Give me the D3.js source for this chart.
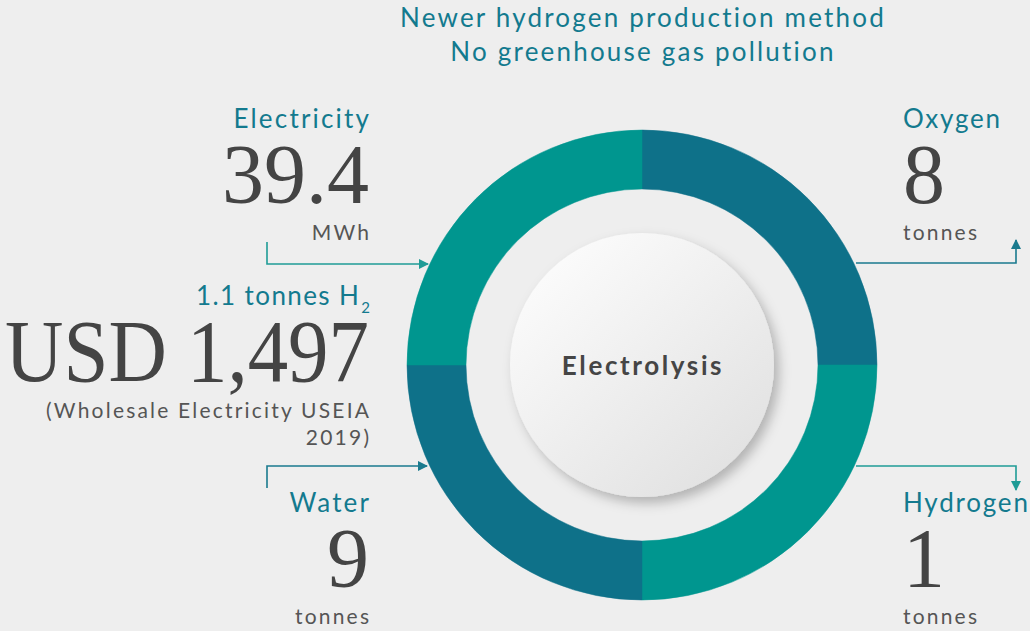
<!DOCTYPE html>
<html>
<head>
<meta charset="utf-8">
<script src="https://cdn.jsdelivr.net/npm/d3@7"></script>
<style>
  html, body { margin: 0; padding: 0; background: #eeeeee; }
  svg { display: block; }
</style>
</head>
<body>
<div id="chart"></div>
<script>
// ---- data ----
const segments = ["Oxygen", "Hydrogen", "Water", "Electricity"]; // clockwise from 12 o'clock
const segmentShares = [1, 1, 1, 1];
const segmentColors = ["#0e7189", "#00968f", "#0e7189", "#00968f"];

const titleLines = ["Newer hydrogen production method", "No greenhouse gas pollution"];

const inputLabels = ["Electricity", "Water"];
const inputValues = ["39.4", "9"];
const inputUnits = ["MWh", "tonnes"];

const outputLabels = ["Oxygen", "Hydrogen"];
const outputValues = ["8", "1"];
const outputUnits = ["tonnes", "tonnes"];

const costLabel = "1.1 tonnes H";
const costSub = "2";
const costValue = "USD 1,497";
const costNote = ["(Wholesale Electricity USEIA", "2019)"];

const centerLabel = "Electrolysis";

// ---- layout ----
const W = 1030, H = 631;
const cx = 642, cy = 365;
const outerR = 235, innerR = 176, coreR = 132;
const sans = "Lato, 'Open Sans', sans-serif";
const serif = "'Liberation Serif', 'DejaVu Serif', serif";
const teal = "#137a8e", dark = "#444444", grey = "#555555";
const lsBig = 2.2, lsSmall = 2.2;

const svg = d3.select("#chart").append("svg").attr("width", W).attr("height", H);
svg.append("rect").attr("width", W).attr("height", H).attr("fill", "#eeeeee");

const defs = svg.append("defs");
const grad = defs.append("linearGradient").attr("id", "coreGrad")
  .attr("x1", "15%").attr("y1", "10%").attr("x2", "85%").attr("y2", "90%");
grad.append("stop").attr("offset", "0%").attr("stop-color", "#fbfbfb");
grad.append("stop").attr("offset", "100%").attr("stop-color", "#e2e2e2");
const filt = defs.append("filter").attr("id", "shadow").attr("x", "-30%").attr("y", "-30%").attr("width", "160%").attr("height", "160%");
filt.append("feDropShadow").attr("dx", 5).attr("dy", 6).attr("stdDeviation", 6)
  .attr("flood-color", "#000").attr("flood-opacity", 0.25);

const arrowDefs = [["arrDark", "#1a7a8e"], ["arrGreen", "#1f9c96"]];
arrowDefs.forEach(([id, c]) => {
  defs.append("marker").attr("id", id).attr("viewBox", "0 0 10 10")
    .attr("refX", 9).attr("refY", 5).attr("markerWidth", 10).attr("markerHeight", 10)
    .attr("markerUnits", "userSpaceOnUse").attr("orient", "auto")
    .append("path").attr("d", "M0,0 L10,5 L0,10 Z").attr("fill", c);
});

// ---- donut ----
const pie = d3.pie().sort(null).value(d => d)(segmentShares);
const arc = d3.arc().innerRadius(innerR).outerRadius(outerR);
const g = svg.append("g").attr("transform", `translate(${cx},${cy})`);
g.selectAll("path.seg").data(pie).join("path").attr("class", "seg")
  .attr("d", arc).attr("fill", (d, i) => segmentColors[i])
  .attr("stroke", (d, i) => segmentColors[i]).attr("stroke-width", 0.5);

g.append("circle").attr("r", coreR).attr("fill", "url(#coreGrad)").attr("filter", "url(#shadow)");
g.append("text").attr("x", 1).attr("y", 10).attr("text-anchor", "middle")
  .attr("font-family", sans).attr("font-weight", 700).attr("font-size", 26)
  .attr("fill", "#454545").attr("letter-spacing", 2.6).text(centerLabel);

// ---- title ----
svg.append("g").selectAll("text").data(titleLines).join("text")
  .attr("x", cx + 1).attr("y", (d, i) => 27 + i * 34).attr("text-anchor", "middle")
  .attr("font-family", sans).attr("font-size", 26).attr("letter-spacing", lsBig)
  .attr("fill", teal).text(d => d);

// ---- blocks ----
function block(x, anchor, top, label, value, unit, ls) {
  const b = svg.append("g");
  const adj = anchor === "end" ? ls : 0;
  b.append("text").attr("x", x + adj).attr("y", top).attr("text-anchor", anchor)
    .attr("font-family", sans).attr("font-size", 26).attr("letter-spacing", ls)
    .attr("fill", teal).text(label);
  b.append("text").attr("x", x).attr("y", top + 75).attr("text-anchor", anchor)
    .attr("font-family", serif).attr("font-size", 84).attr("fill", dark).text(value);
  b.append("text").attr("x", x + (anchor === "end" ? lsSmall : 0)).attr("y", top + 112).attr("text-anchor", anchor)
    .attr("font-family", sans).attr("font-size", 21).attr("fill", grey)
    .attr("letter-spacing", lsSmall).text(unit);
}
block(369, "end", 128, inputLabels[0], inputValues[0], inputUnits[0], lsBig);
block(369, "end", 512, inputLabels[1], inputValues[1], inputUnits[1], lsBig);
block(903, "start", 128, outputLabels[0], outputValues[0], outputUnits[0], 1.8);
block(903, "start", 512, outputLabels[1], outputValues[1], outputUnits[1], 1.8);

// cost block
const cb = svg.append("g");
const ct = cb.append("text").attr("x", 370).attr("y", 305).attr("text-anchor", "end")
  .attr("font-family", sans).attr("font-size", 26).attr("letter-spacing", 1.4)
  .attr("fill", teal);
ct.append("tspan").text(costLabel);
ct.append("tspan").attr("font-size", 15).attr("dx", 1).attr("dy", 8).attr("letter-spacing", 0).text(costSub);
cb.append("text").attr("x", 369).attr("y", 381).attr("text-anchor", "end")
  .attr("font-family", serif).attr("font-size", 88).attr("fill", dark)
  .attr("textLength", 364).attr("lengthAdjust", "spacingAndGlyphs").text(costValue);
cb.selectAll("text.note").data(costNote).join("text").attr("class", "note")
  .attr("x", 369 + lsSmall).attr("y", (d, i) => 418 + i * 27).attr("text-anchor", "end")
  .attr("font-family", sans).attr("font-size", 21).attr("letter-spacing", lsSmall)
  .attr("fill", grey).text(d => d);

// ---- arrows ----
const line = d3.line();
const arrows = [
  { pts: [[267, 242], [267, 264], [428, 264]], c: "#1f9c96", m: "arrGreen" },
  { pts: [[267, 488], [267, 466], [427, 466]], c: "#1a7a8e", m: "arrDark" },
  { pts: [[856, 263], [1016, 263], [1016, 240]], c: "#1a7a8e", m: "arrDark" },
  { pts: [[856, 466], [1016, 466], [1016, 490]], c: "#1f9c96", m: "arrGreen" }
];
svg.append("g").selectAll("path").data(arrows).join("path")
  .attr("d", d => line(d.pts)).attr("fill", "none").attr("stroke", d => d.c)
  .attr("stroke-width", 1.6).attr("marker-end", d => `url(#${d.m})`);
</script>
</body>
</html>
